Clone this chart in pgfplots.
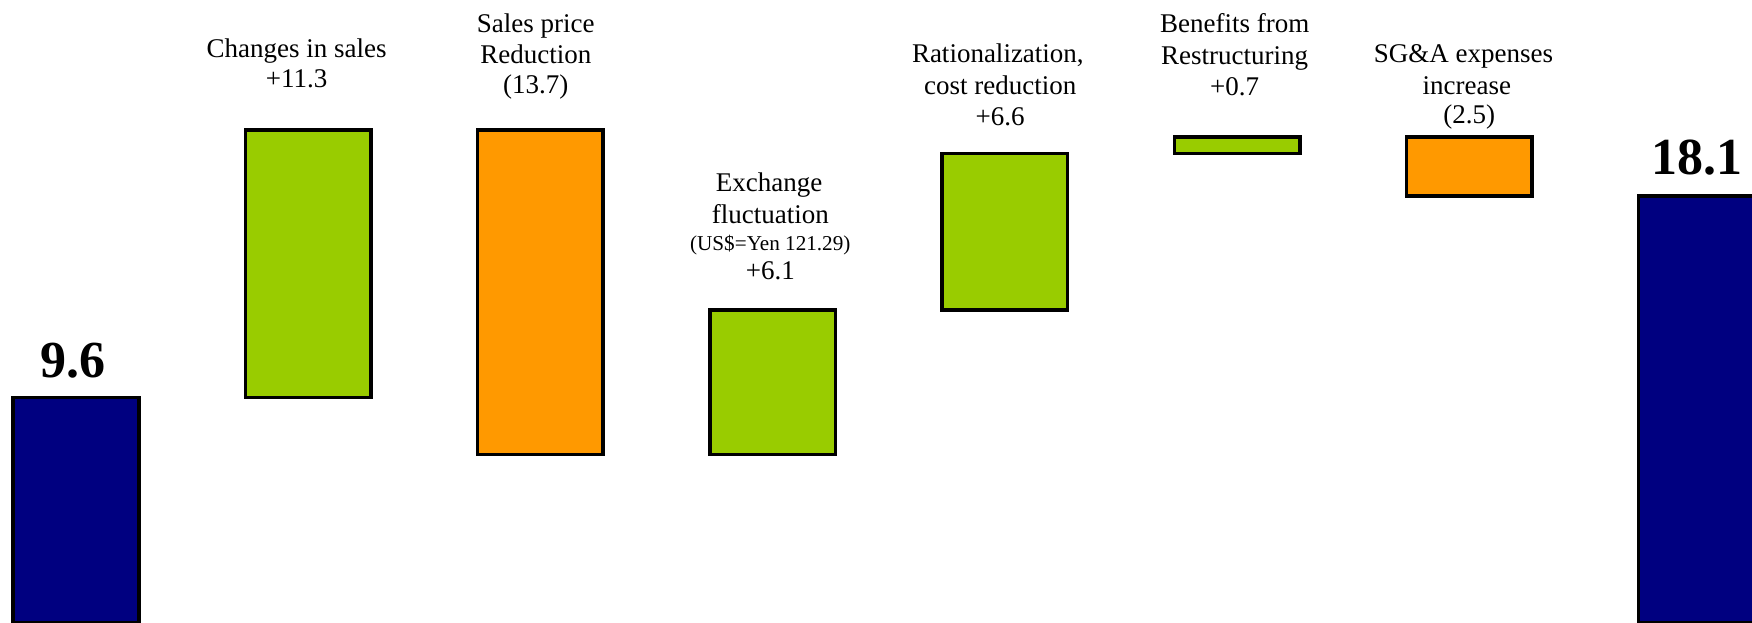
\documentclass[border=0pt]{standalone}
\usepackage{fontspec}
\setmainfont{Liberation Serif}
\usepackage{pgfplots}
\pgfplotsset{compat=1.18}

\definecolor{navybar}{RGB}{0,0,128}
\definecolor{gainbar}{RGB}{153,204,0}
\definecolor{lossbar}{RGB}{255,153,0}

\pgfplotsset{
  bridge/.style={
    width=525.6pt, height=186.9pt, scale only axis,
    xmin=-0.3273, xmax=7.2179, ymin=0.08, ymax=26.38,
    enlargelimits=false,
    axis line style={draw=none},
    xtick=\empty, ytick=\empty,
    bar width=0.5405,
  },
  barline/.style={draw=black, line width=1.05pt},
  hidden base/.style={draw=none, fill=none, forget plot},
}

\tikzset{
  lbl/.style={anchor=base, inner sep=0pt, font=\fontsize{8.1}{9.7}\selectfont},
  lblsmall/.style={anchor=base, inner sep=0pt, font=\fontsize{6.35}{7.6}\selectfont},
  total/.style={anchor=base, inner sep=0pt, font=\fontsize{15.6}{18}\selectfont\bfseries},
}

\begin{document}
\begin{tikzpicture}
% opening and closing operating income
\begin{axis}[bridge, ybar, bar shift=0pt]
  \addplot[barline, fill=navybar] coordinates {(0,9.6) (7,18.1)};
  \node[total] at (axis cs:-0.015,10.43) {9.6};
  \node[total] at (axis cs:6.98,19.0) {18.1};
\end{axis}

% increases: invisible running total below, step on top
\begin{axis}[bridge, ybar stacked, bar shift=0pt]
  \addplot[hidden base] coordinates {(1,9.6) (3,7.2) (4,13.3) (5,19.9)};
  \addplot[barline, fill=gainbar] coordinates {(1,11.3) (3,6.1) (4,6.6) (5,0.7)};
\end{axis}

% decreases: invisible remaining total below, step on top
\begin{axis}[bridge, ybar stacked, bar shift=0pt]
  \addplot[hidden base] coordinates {(2,7.2) (6,18.1)};
  \addplot[barline, fill=lossbar] coordinates {(2,13.7) (6,2.5)};

  \node[lbl] at (axis cs:0.95,23.94) {Changes in sales};
  \node[lbl] at (axis cs:0.95,22.68) {+11.3};

  \node[lbl] at (axis cs:1.98,25.01) {Sales price};
  \node[lbl] at (axis cs:1.98,23.68) {Reduction};
  \node[lbl] at (axis cs:1.98,22.42) {(13.7)};

  \node[lbl] at (axis cs:2.985,18.30) {Exchange};
  \node[lbl] at (axis cs:2.99,16.95) {fluctuation};
  \node[lblsmall] at (axis cs:2.99,15.80) {(US\$=Yen 121.29)};
  \node[lbl] at (axis cs:2.99,14.56) {+6.1};

  \node[lbl] at (axis cs:3.97,23.75) {Rationalization,};
  \node[lbl] at (axis cs:3.98,22.41) {cost reduction};
  \node[lbl] at (axis cs:3.98,21.07) {+6.6};

  \node[lbl] at (axis cs:4.99,24.99) {Benefits from};
  \node[lbl] at (axis cs:4.99,23.65) {Restructuring};
  \node[lbl] at (axis cs:4.99,22.34) {+0.7};

  \node[lbl] at (axis cs:5.975,23.74) {SG\&A expenses};
  \node[lbl] at (axis cs:5.99,22.40) {increase};
  \node[lbl] at (axis cs:6.0,21.15) {(2.5)};
\end{axis}
\end{tikzpicture}
\end{document}
